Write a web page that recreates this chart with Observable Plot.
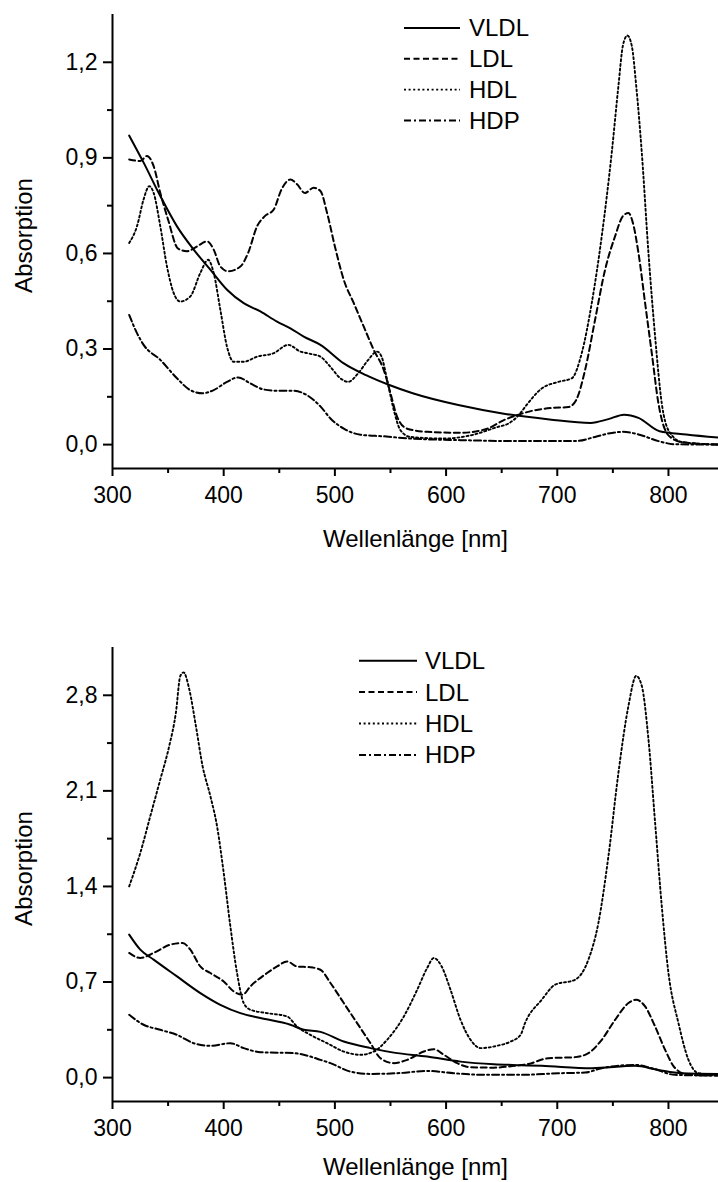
<!DOCTYPE html>
<html>
<head>
<meta charset="utf-8">
<script src="https://cdn.jsdelivr.net/npm/d3@7"></script>
<script src="https://cdn.jsdelivr.net/npm/@observablehq/plot@0.6"></script>
<style>
  html, body { margin: 0; padding: 0; background: #fff; }
  svg { display: block; }
</style>
</head>
<body>
<div id="top"></div>
<div id="bottom"></div>
<script>
// ---------- data (wavelength nm, absorption) ----------
const seriesNames = ["VLDL", "LDL", "HDL", "HDP"];

const xMajorTicks = [300, 400, 500, 600, 700, 800];
const xMinorTicks = [350, 450, 550, 650, 750];
const xDomain = [300, 845];

// top panel
const topYMajorTicks = [0, 0.3, 0.6, 0.9, 1.2];
const topYMinorTicks = [0.15, 0.45, 0.75, 1.05];
const topYDomain = [-0.075, 1.35];

const topVLDL = [[315,0.97],[328,0.885],[343,0.78],[358,0.685],[373,0.612],[388,0.549],[403,0.486],[418,0.444],[433,0.418],[448,0.386],[460,0.365],[472,0.339],[487,0.313],[508,0.255],[528,0.218],[549,0.187],[570,0.161],[611,0.124],[652,0.097],[693,0.079],[730,0.068],[746,0.08],[760,0.094],[773,0.084],[792,0.042],[816,0.032],[845,0.022]];
const topLDL = [[315,0.895],[325,0.89],[331,0.906],[337,0.874],[343,0.79],[350,0.706],[359,0.615],[367,0.607],[376,0.622],[385,0.638],[391,0.612],[397,0.559],[404,0.544],[415,0.559],[422,0.602],[430,0.685],[437,0.717],[445,0.738],[452,0.801],[460,0.832],[466,0.817],[473,0.79],[481,0.806],[487,0.796],[493,0.727],[500,0.622],[508,0.517],[517,0.444],[526,0.37],[535,0.297],[544,0.234],[550,0.161],[556,0.087],[565,0.05],[583,0.04],[613,0.037],[637,0.05],[652,0.077],[666,0.095],[680,0.108],[695,0.115],[710,0.118],[717,0.14],[725,0.234],[734,0.392],[743,0.549],[752,0.654],[759,0.717],[764,0.727],[768,0.696],[773,0.602],[779,0.444],[785,0.287],[791,0.129],[800,0.029],[812,0.008],[845,0.0]];
const topHDL = [[315,0.633],[322,0.685],[328,0.77],[333,0.811],[337,0.79],[343,0.685],[349,0.559],[355,0.476],[361,0.449],[370,0.465],[379,0.539],[386,0.58],[391,0.539],[397,0.423],[403,0.307],[409,0.26],[418,0.26],[430,0.276],[445,0.287],[458,0.313],[469,0.292],[478,0.285],[487,0.276],[496,0.244],[505,0.208],[512,0.197],[521,0.224],[530,0.266],[538,0.292],[542,0.276],[547,0.203],[553,0.108],[559,0.045],[568,0.024],[598,0.019],[622,0.029],[646,0.055],[656,0.066],[666,0.095],[671,0.118],[686,0.176],[701,0.197],[713,0.208],[722,0.287],[731,0.444],[740,0.654],[749,0.917],[755,1.126],[759,1.252],[763,1.284],[767,1.252],[771,1.126],[776,0.917],[782,0.602],[788,0.339],[794,0.129],[800,0.045],[812,0.008],[845,0.0]];
const topHDP = [[315,0.407],[322,0.35],[328,0.313],[343,0.266],[358,0.208],[370,0.171],[381,0.161],[391,0.171],[403,0.197],[413,0.211],[424,0.192],[436,0.173],[448,0.169],[463,0.169],[475,0.155],[487,0.12],[496,0.082],[508,0.05],[523,0.031],[544,0.026],[568,0.019],[613,0.014],[667,0.011],[716,0.011],[734,0.024],[746,0.035],[759,0.04],[773,0.032],[791,0.011],[806,0.001],[845,0.0]];

// bottom panel
const botYMajorTicks = [0, 0.7, 1.4, 2.1, 2.8];
const botYMinorTicks = [0.35, 1.05, 1.75, 2.45];
const botYDomain = [-0.175, 3.15];

const botVLDL = [[315,1.047],[325,0.937],[337,0.864],[358,0.741],[379,0.619],[397,0.533],[415,0.472],[433,0.436],[460,0.387],[472,0.35],[487,0.335],[508,0.264],[532,0.216],[553,0.183],[583,0.154],[613,0.117],[643,0.098],[667,0.091],[686,0.086],[731,0.069],[770,0.086],[791,0.056],[812,0.032],[845,0.027]];
const botLDL = [[315,0.913],[325,0.876],[337,0.913],[352,0.974],[363,0.986],[370,0.937],[379,0.814],[388,0.766],[400,0.704],[409,0.631],[417,0.607],[424,0.668],[439,0.766],[448,0.814],[457,0.851],[466,0.814],[478,0.808],[487,0.79],[496,0.693],[508,0.546],[520,0.399],[532,0.252],[541,0.142],[553,0.106],[565,0.13],[580,0.191],[589,0.208],[598,0.167],[610,0.106],[622,0.076],[643,0.073],[660,0.085],[674,0.1],[692,0.142],[716,0.15],[728,0.179],[740,0.277],[752,0.423],[764,0.546],[771,0.57],[779,0.521],[788,0.374],[797,0.203],[806,0.069],[818,0.02],[845,0.015]];
const botHDL = [[315,1.401],[325,1.646],[334,1.915],[343,2.184],[351,2.428],[357,2.673],[361,2.942],[364,2.967],[369,2.845],[375,2.575],[381,2.282],[388,2.062],[394,1.842],[400,1.5],[406,1.108],[412,0.766],[418,0.546],[424,0.497],[439,0.472],[457,0.448],[466,0.374],[478,0.313],[493,0.252],[508,0.191],[523,0.167],[535,0.191],[547,0.277],[562,0.448],[574,0.643],[583,0.803],[589,0.876],[596,0.814],[604,0.643],[613,0.423],[622,0.277],[631,0.216],[646,0.233],[658,0.264],[667,0.313],[671,0.399],[686,0.57],[698,0.68],[716,0.717],[728,0.864],[737,1.133],[746,1.621],[755,2.233],[764,2.722],[771,2.942],[776,2.869],[782,2.478],[788,1.866],[794,1.255],[800,0.766],[809,0.399],[818,0.13],[827,0.032],[845,0.02]];
const botHDP = [[315,0.46],[328,0.387],[343,0.35],[358,0.313],[373,0.252],[388,0.233],[406,0.252],[418,0.216],[433,0.186],[463,0.179],[478,0.154],[487,0.13],[496,0.106],[514,0.044],[532,0.027],[556,0.032],[583,0.049],[607,0.032],[634,0.02],[667,0.02],[701,0.032],[725,0.037],[740,0.069],[770,0.093],[785,0.069],[806,0.02],[845,0.015]];

const xLabel = "Wellenlänge [nm]";
const yLabel = "Absorption";

// ---------- styles ----------
const lineStyles = {
  VLDL: {dash: null, width: 2},
  LDL:  {dash: "6,3.5", width: 2},
  HDL:  {dash: "2,2.6", width: 1.9},
  HDP:  {dash: "7,3,2,3", width: 2}
};
const FONT = "'Liberation Sans', Arial, Helvetica, sans-serif";
const fmt = d => d.toFixed(1).replace(".", ",");

function panel({height, marginTop, marginBottom, yDomain, yMajor, yMinor, series, legend, titleDy}) {
  const marks = [
    Plot.ruleX([xDomain[0]], {stroke: "#000", strokeWidth: 2}),
    Plot.ruleY([yDomain[0]], {stroke: "#000", strokeWidth: 2}),
    Plot.axisX({ticks: xMajorTicks, tickSize: 8, tickPadding: 10, tickFormat: d => String(d), label: null, strokeWidth: 2, fontSize: 23}),
    Plot.axisX({ticks: xMinorTicks, tickSize: 5, tickFormat: () => "", label: null, strokeWidth: 2}),
    Plot.axisY({ticks: yMajor, tickSize: 9, tickPadding: 6, tickFormat: fmt, label: null, strokeWidth: 2, fontSize: 23}),
    Plot.axisY({ticks: yMinor, tickSize: 5, tickFormat: () => "", label: null, strokeWidth: 2}),
    Plot.text([xLabel], {frameAnchor: "bottom", dy: titleDy, fontSize: 24, lineAnchor: "middle", textAnchor: "middle", fill: "#000"}),
    Plot.text([yLabel], {frameAnchor: "left", rotate: -90, dx: -88, dy: -6, fontSize: 24, lineAnchor: "middle", textAnchor: "middle", fill: "#000"})
  ];
  seriesNames.forEach((name, i) => {
    const st = lineStyles[name];
    marks.push(Plot.line(series[i], {
      x: d => d[0], y: d => d[1], curve: "monotone-x",
      stroke: "#000", strokeWidth: st.width,
      strokeDasharray: st.dash || undefined, strokeLinejoin: "round"
    }));
  });
  const svg = Plot.plot({
    width: 718, height,
    marginLeft: 112, marginRight: 0, marginTop, marginBottom,
    x: {domain: xDomain},
    y: {domain: yDomain},
    style: {fontFamily: FONT, fontSize: "23px", color: "#000", background: "#fff", overflow: "visible"},
    marks
  });
  // legend
  const g = d3.select(svg).append("g")
    .attr("font-family", FONT).attr("font-size", 24).attr("text-anchor", "start");
  seriesNames.forEach((name, i) => {
    const st = lineStyles[name];
    const y = legend.y0 + i * legend.dy;
    g.append("line").attr("x1", legend.x1).attr("x2", legend.x2).attr("y1", y).attr("y2", y)
      .attr("stroke", "#000").attr("stroke-width", st.width)
      .attr("stroke-dasharray", st.dash);
    g.append("text").attr("x", legend.tx).attr("y", y).attr("dy", "0.35em")
      .attr("text-anchor", "start").attr("fill", "#000").text(name);
  });
  return svg;
}

document.getElementById("top").appendChild(panel({
  height: 590, marginTop: 14, marginBottom: 122,
  yDomain: topYDomain, yMajor: topYMajorTicks, yMinor: topYMinorTicks,
  series: [topVLDL, topLDL, topHDL, topHDP],
  legend: {x1: 404, x2: 460, tx: 469, y0: 28, dy: 30.8},
  titleDy: 71
}));
document.getElementById("bottom").appendChild(panel({
  height: 592, marginTop: 57, marginBottom: 81,
  yDomain: botYDomain, yMajor: botYMajorTicks, yMinor: botYMinorTicks,
  series: [botVLDL, botLDL, botHDL, botHDP],
  legend: {x1: 359, x2: 417, tx: 425, y0: 70.7, dy: 31.4},
  titleDy: 66
}));
</script>
</body>
</html>
